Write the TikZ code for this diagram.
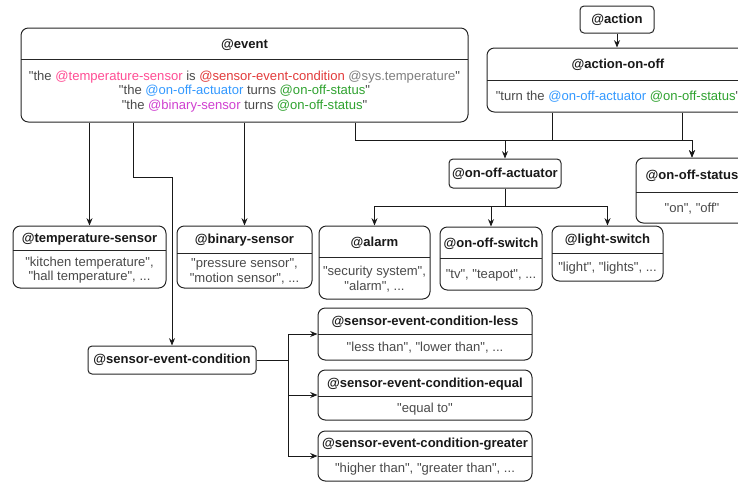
\documentclass[tikz,border=0pt]{standalone}
\usepackage{fontspec}
\setmainfont{Liberation Sans}[Ligatures=TeXOff]
\usetikzlibrary{arrows.meta,calc}
\definecolor{cpink}{HTML}{FF4D94}
\definecolor{cred}{HTML}{E23B3B}
\definecolor{cgray}{HTML}{7F7F7F}
\definecolor{cblue}{HTML}{3399FF}
\definecolor{cgreen}{HTML}{2FA22F}
\definecolor{cmag}{HTML}{D040D0}
\definecolor{ctext}{HTML}{4A4A4A}
\begin{document}
\begin{tikzpicture}[x=0.75pt,y=-0.75pt,
  box/.style={draw=black!85,line width=0.75pt,rounded corners=5.5pt,inner sep=0pt,fill=white},
  small box/.style={box,rounded corners=3pt,font=\fontsize{9.8}{11}\selectfont\bfseries,text=black!90},
  head/.style={font=\fontsize{9.8}{11}\selectfont\bfseries,text=black!90,inner sep=0pt},
  body/.style={align=center,font=\fontsize{9.8}{11}\selectfont,text=ctext,inner sep=0pt},
  sep/.style={draw=black!85,line width=0.75pt},
  arr/.style={-{Stealth[length=5.5pt,width=4.5pt]},draw=black!90,line width=0.75pt}]
\fontsize{9.8}{11}\selectfont
\useasboundingbox (0,0) rectangle (738,483);
\clip (0,0) rectangle (738,483);
\def\entity#1#2#3#4#5#6#7#8{%
  \pgfmathsetmacro{\bw}{(#4-#2)*0.75}%
  \pgfmathsetmacro{\bh}{(#5-#3)*0.75}%
  \node[box,minimum width=\bw pt,minimum height=\bh pt] (#1) at ({(#2+#4)/2},{(#3+#5)/2}) {};
  \draw[sep] (#2,#6) -- (#4,#6);
  \node[head] (#1-head) at ({(#2+#4)/2},{(#3+#6)/2+1}) {#7};
  \node[body] (#1-body) at ({(#2+#4)/2},{(#6+#5)/2+1}) {#8};}
\def\tag#1#2#3#4#5#6{%
  \pgfmathsetmacro{\bw}{(#4-#2)*0.75}%
  \pgfmathsetmacro{\bh}{(#5-#3)*0.75}%
  \node[small box,minimum width=\bw pt,minimum height=\bh pt] (#1) at ({(#2+#4)/2},{(#3+#5)/2}) {#6};}
\entity{event}{21}{28}{468}{122}{59}{@event}{"the {\color{cpink}@temperature-sensor} is {\color{cred}@sensor-event-condition} {\color{cgray}@sys.temperature}"\\
  "the {\color{cblue}@on-off-actuator} turns {\color{cgreen}@on-off-status}"\\
  "the {\color{cmag}@binary-sensor} turns {\color{cgreen}@on-off-status}"}
\tag{action}{580}{6}{654}{33}{@action}
\entity{aoo}{487}{48}{749}{112}{80}{@action-on-off}{"turn the {\color{cblue}@on-off-actuator} {\color{cgreen}@on-off-status}"}
\tag{ooa}{449}{159}{561}{188}{@on-off-actuator}
\entity{oos}{636}{158}{748}{223}{192}{@on-off-status}{"on", "off"}
\entity{ts}{13}{226}{166}{288}{250}{@temperature-sensor}{"kitchen temperature",\\"hall temperature", ...}
\entity{bs}{177}{226}{312}{288}{253}{@binary-sensor}{"pressure sensor",\\"motion sensor", ...}
\entity{alarm}{319}{226}{430}{299}{257}{@alarm}{"security system",\\"alarm", ...}
\entity{switch}{440}{227}{542}{290}{258}{@on-off-switch}{"tv", "teapot", ...}
\entity{light}{552}{226}{663}{281}{253}{@light-switch}{"light", "lights", ...}
\tag{sec}{88}{346}{256}{374}{@sensor-event-condition}
\entity{less}{318}{308}{532}{360}{334}{@sensor-event-condition-less}{"less than", "lower than", ...}
\entity{equal}{318}{370}{532}{420}{396}{@sensor-event-condition-equal}{"equal to"}
\entity{greater}{318}{431}{532}{481}{456}{@sensor-event-condition-greater}{"higher than", "greater than", ...}
\draw[arr] (action.south) -- (action.south |- aoo.north);
\draw[arr] (ts.north |- event.south) -- (ts.north);
\draw[arr] (bs.north |- event.south) -- (bs.north);
\draw[arr] ($(event.south)+(-111,0)$) -- ++(0,55) -| (sec.north);
\draw[arr] ($(event.south)+(111,0)$) -- ++(0,18) -| (oos.north);
\draw[arr] ($(aoo.south)+(-66,0)$) -- ++(0,28) -| (ooa.north);
\draw[arr] ($(aoo.south)+(64,0)$) -- ++(0,28) -| (oos.north);
\draw[arr] (ooa.south) -- ++(0,18) -| (alarm.north);
\draw[arr] (ooa.south) -- ++(0,18) -| (switch.north);
\draw[arr] (ooa.south) -- ++(0,18) -| (light.north);
\draw[arr] (sec.east) -- ++(32,0) |- (less.west);
\draw[arr] (sec.east) -- ++(32,0) |- (equal.west);
\draw[arr] (sec.east) -- ++(32,0) |- (greater.west);
\end{tikzpicture}
\end{document}
